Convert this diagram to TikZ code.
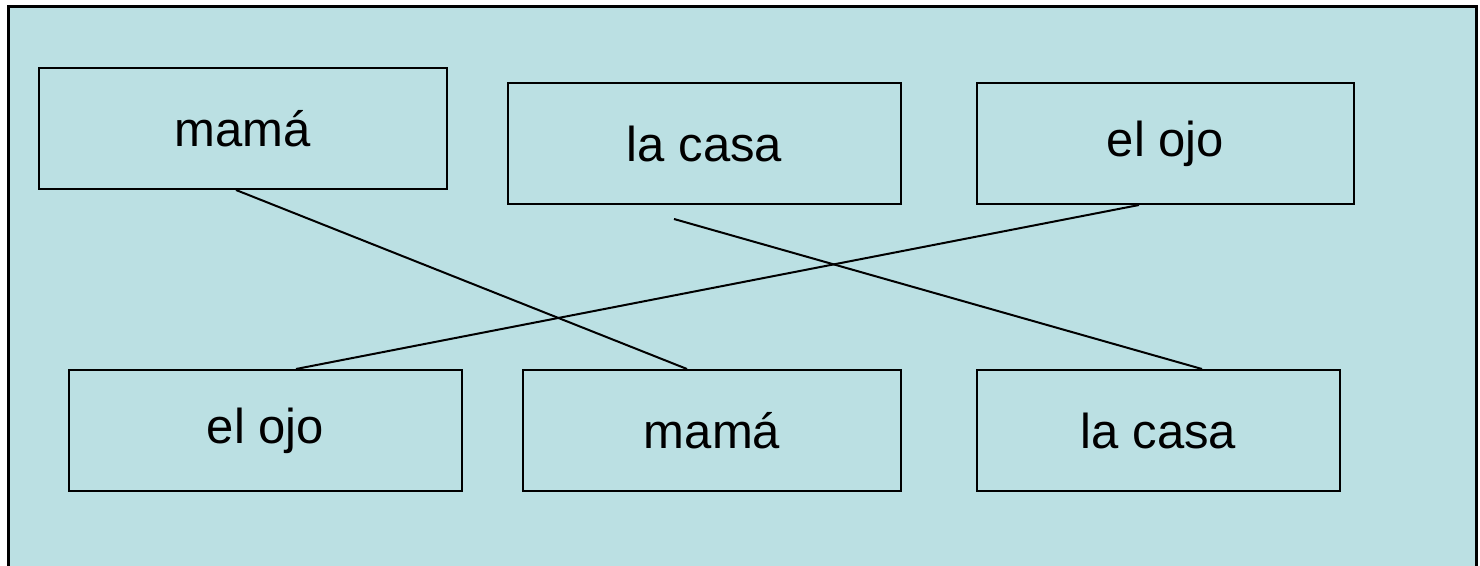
\documentclass[tikz,border=0pt]{standalone}
\usepackage{fontspec}
\setmainfont{Liberation Sans}
\definecolor{bgblue}{RGB}{187,224,227}
\begin{document}
\begin{tikzpicture}[x=1pt,y=-1pt,
  wordbox/.style={draw=black,line width=2pt,fill=bgblue,rectangle,inner sep=0pt,
    font=\fontsize{49}{58}\selectfont},
  link/.style={draw=black,line width=2pt}]
\useasboundingbox (0,0) rectangle (1480,565);
\fill[white] (0,0) rectangle (1480,565);
\draw[line width=3pt,fill=bgblue] (8,6) rectangle (1476,580);
% top row
\node[wordbox,minimum width=408pt,minimum height=121pt] (A) at (243,128.5) {mamá};
\node[wordbox,minimum width=393pt,minimum height=121pt] (B) at (704.5,143.5) {la casa};
\node[wordbox,minimum width=377pt,minimum height=121pt] (C) at (1165.5,143.5) {el ojo};
% bottom row
\node[wordbox,minimum width=393pt,minimum height=121pt] (D) at (265.5,430.5) {el ojo};
\node[wordbox,minimum width=378pt,minimum height=121pt] (E) at (712,430.5) {mamá};
\node[wordbox,minimum width=363pt,minimum height=121pt] (F) at (1158.5,430.5) {la casa};
\coordinate (Bfree) at (674,219);
\draw[link] ([xshift=198pt]A.south west) -- ([xshift=165pt]E.north west);
\draw[link] (Bfree) -- ([xshift=226pt]F.north west);
\draw[link] ([xshift=163pt]C.south west) -- ([xshift=228pt]D.north west);
\end{tikzpicture}
\end{document}
